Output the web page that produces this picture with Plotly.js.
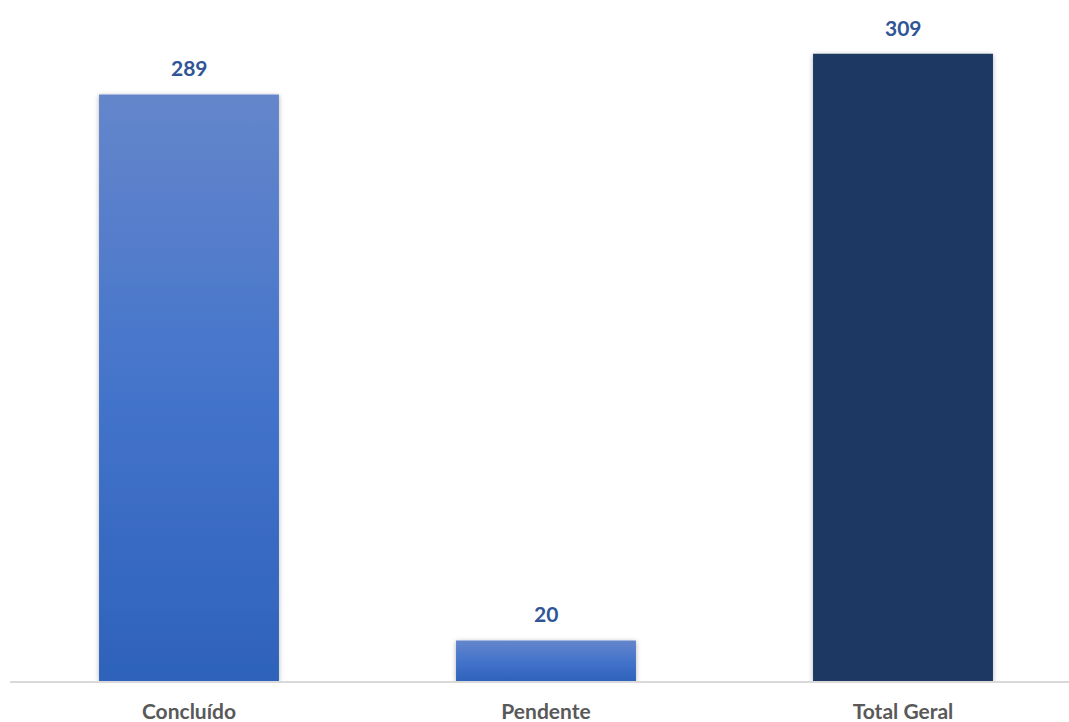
<!DOCTYPE html>
<html>
<head>
<meta charset="utf-8">
<script src="https://cdn.plot.ly/plotly-3.0.1.min.js"></script>
<style>html,body{margin:0;padding:0;background:#fff;}#chart{width:1069px;height:722px;}</style>
</head>
<body>
<div id="chart"></div>
<script>
const categories = ["Concluído", "Pendente", "Total Geral"];
const values = [289, 20, 309];
const barColors = ["#4a76c8", "#4a76c8", "#1f3864"];
const gradientBars = [true, true, false];

const trace = {
  type: "bar",
  x: categories,
  y: values,
  width: 0.504,
  marker: { color: barColors, line: { width: 0 } },
  hoverinfo: "none"
};

const annotations = categories.map((c, i) => ({
  x: c, y: values[i], xref: "x", yref: "y",
  text: "<b>" + values[i] + "</b>", showarrow: false,
  yanchor: "bottom", yshift: 12,
  font: { family: "Lato, 'Open Sans', sans-serif", size: 21, color: "#2f5597" }
}));

const layout = {
  width: 1069, height: 722,
  margin: { l: 10, r: 0, t: 0, b: 41 },
  paper_bgcolor: "#ffffff", plot_bgcolor: "#ffffff",
  showlegend: false,
  xaxis: {
    type: "category",
    range: [-0.5014, 2.465],
    showgrid: false, zeroline: false,
    showline: true, linecolor: "#d9d9d9", linewidth: 2,
    ticks: "", ticklabelstandoff: 11,
    tickfont: { family: "Lato, 'Open Sans', sans-serif", size: 21, color: "#595959", weight: "bold" }
  },
  yaxis: {
    range: [0, 335.5], visible: false, showgrid: false, zeroline: false, fixedrange: true
  },
  annotations: annotations
};

Plotly.newPlot("chart", [trace], layout, { displayModeBar: false, staticPlot: true }).then(() => {
  const svg = document.querySelector("#chart .main-svg");
  const ns = "http://www.w3.org/2000/svg";
  let defs = svg.querySelector("defs");
  if (!defs) { defs = document.createElementNS(ns, "defs"); svg.insertBefore(defs, svg.firstChild); }
  const grad = document.createElementNS(ns, "linearGradient");
  grad.setAttribute("id", "barGrad");
  grad.setAttribute("x1", "0"); grad.setAttribute("y1", "0");
  grad.setAttribute("x2", "0"); grad.setAttribute("y2", "1");
  [["0", "#6586cb"], ["0.5", "#4474cb"], ["1", "#2e62bb"]].forEach(([o, c]) => {
    const s = document.createElementNS(ns, "stop");
    s.setAttribute("offset", o); s.setAttribute("stop-color", c);
    grad.appendChild(s);
  });
  defs.appendChild(grad);
  const filt = document.createElementNS(ns, "filter");
  filt.setAttribute("id", "barShadow");
  filt.setAttribute("x", "-10%"); filt.setAttribute("y", "-10%");
  filt.setAttribute("width", "120%"); filt.setAttribute("height", "120%");
  const ds = document.createElementNS(ns, "feDropShadow");
  ds.setAttribute("dx", "0"); ds.setAttribute("dy", "1");
  ds.setAttribute("stdDeviation", "2.5");
  ds.setAttribute("flood-color", "#000"); ds.setAttribute("flood-opacity", "0.3");
  filt.appendChild(ds);
  defs.appendChild(filt);
  const paths = document.querySelectorAll("#chart .trace.bars .point path");
  paths.forEach((p, i) => {
    if (gradientBars[i]) p.style.fill = "url(#barGrad)";
    p.style.filter = "url(#barShadow)";
  });
});
</script>
</body>
</html>
